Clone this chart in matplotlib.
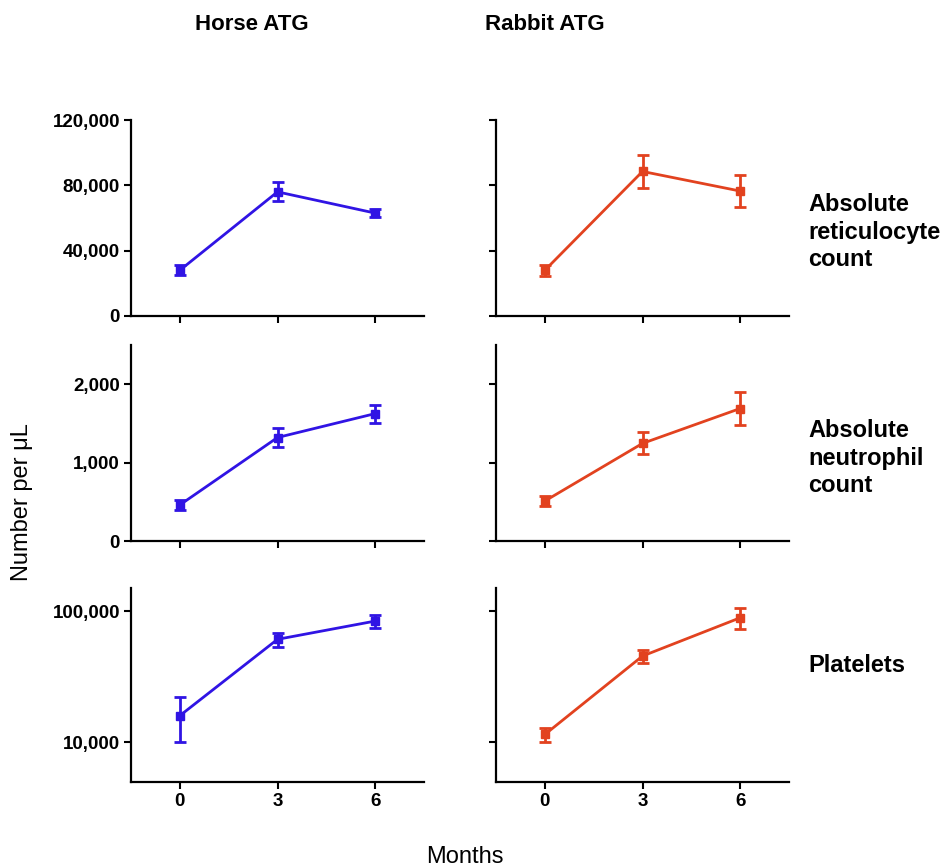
import numpy as np
import matplotlib
matplotlib.use('Agg')
import matplotlib.pyplot as plt
from matplotlib.ticker import FixedLocator, NullLocator, FuncFormatter

plt.rcParams['font.family'] = ['Liberation Sans', 'DejaVu Sans']

months = [0, 3, 6]
groups = ['Horse ATG', 'Rabbit ATG']
rows = ['Absolute\nreticulocyte\ncount', 'Absolute\nneutrophil\ncount', 'Platelets']

# means and error (SEM) per group
retic_horse = [28000, 76000, 63000]
retic_horse_err = [3000, 5800, 2500]
retic_rabbit = [28000, 88500, 76500]
retic_rabbit_err = [3500, 10300, 9800]

neut_horse = [460, 1320, 1625]
neut_horse_err = [60, 115, 115]
neut_rabbit = [510, 1245, 1690]
neut_rabbit_err = [65, 140, 205]

plt_horse = [16000, 61000, 84000]
plt_horse_err = [6000, 7500, 10000]
plt_rabbit = [11500, 45500, 89000]
plt_rabbit_err = [1400, 5200, 16000]

data = [
    [(retic_horse, retic_horse_err), (retic_rabbit, retic_rabbit_err)],
    [(neut_horse, neut_horse_err), (neut_rabbit, neut_rabbit_err)],
    [(plt_horse, plt_horse_err), (plt_rabbit, plt_rabbit_err)],
]
colors = ['#3014E4', '#E2421F']

ylims = [(0, 120000), (0, 2500), (5000, 150000)]
yticks = [[0, 40000, 80000, 120000], [0, 1000, 2000], [10000, 100000]]

W, H = 951, 868
col_x = [131, 496]
col_w = 293
row_y = [(120, 316), (345, 541), (588, 782)]

fig = plt.figure(figsize=(W / 100, H / 100), dpi=100)

for r in range(3):
    for c in range(2):
        top, bot = row_y[r]
        ax = fig.add_axes([col_x[c] / W, 1 - bot / H, col_w / W, (bot - top) / H])
        vals, errs = data[r][c]
        ax.errorbar(months, vals, yerr=errs, color=colors[c], lw=2.0,
                    marker='s', ms=6, capsize=4.5, capthick=2.0, elinewidth=2.0)
        if r == 2:
            ax.set_yscale('log')
        ax.set_ylim(*ylims[r])
        ax.set_xlim(-1.5, 7.5)
        ax.yaxis.set_major_locator(FixedLocator(yticks[r]))
        ax.yaxis.set_minor_locator(NullLocator())
        ax.yaxis.set_major_formatter(FuncFormatter(lambda v, p: '{:,.0f}'.format(v)))
        ax.set_xticks(months)
        for s in ['top', 'right']:
            ax.spines[s].set_visible(False)
        for s in ['left', 'bottom']:
            ax.spines[s].set_linewidth(1.6)
        ax.tick_params(direction='out', length=5, width=1.5, labelsize=13.5, pad=3)
        for lab in ax.get_yticklabels() + ax.get_xticklabels():
            lab.set_fontweight('bold')
        if c == 1:
            ax.set_yticklabels([])
        if r < 2:
            ax.set_xticklabels([])

fig.text(252 / W, 1 - 24 / H, groups[0], ha='center', va='center',
         fontsize=16, fontweight='bold')
fig.text(545 / W, 1 - 24 / H, groups[1], ha='center', va='center',
         fontsize=16, fontweight='bold')

row_label_y = [232, 458, 665]
for r in range(3):
    fig.text(808 / W, 1 - row_label_y[r] / H, rows[r], ha='left', va='center',
             fontsize=17, fontweight='bold', linespacing=1.25)

fig.text(22 / W, 1 - 502 / H, 'Number per \u03bcL', rotation=90, ha='center',
         va='center', fontsize=17)
fig.text(465 / W, 1 - 857 / H, 'Months', ha='center', va='center', fontsize=17)

fig.savefig('out.png', dpi=100)
